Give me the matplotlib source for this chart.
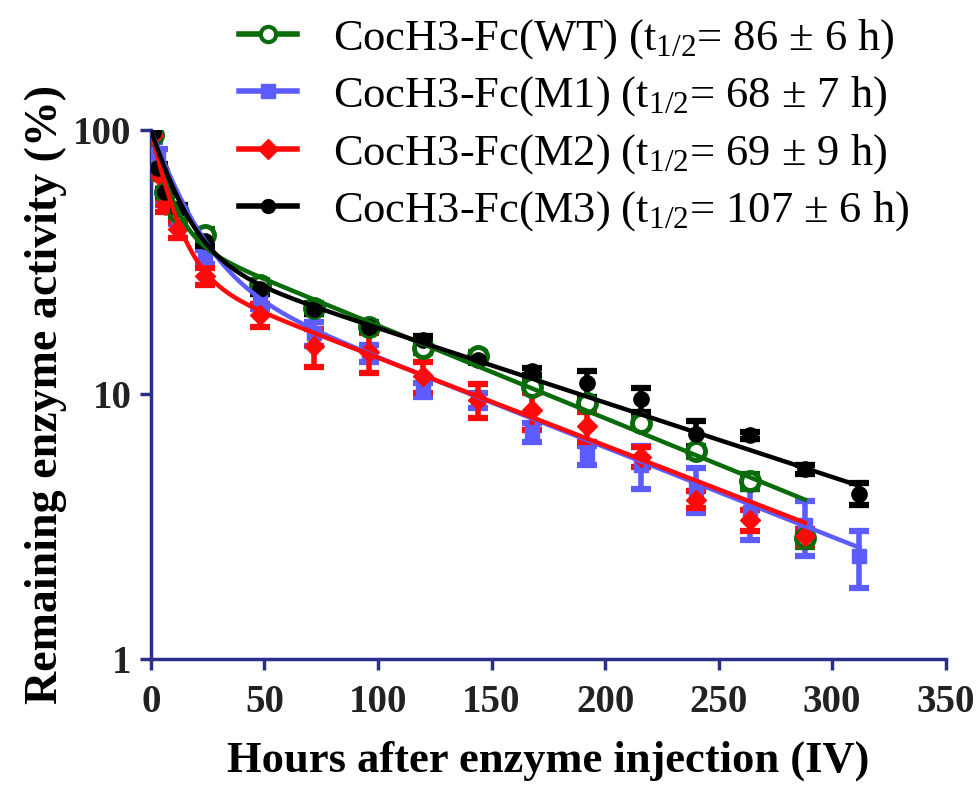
import numpy as np
import matplotlib
matplotlib.use("Agg")
import matplotlib.pyplot as plt
from matplotlib.lines import Line2D

plt.rcParams['font.family'] = ['Liberation Serif', 'DejaVu Serif']
plt.rcParams['mathtext.fontset'] = 'custom'
plt.rcParams['mathtext.rm'] = 'Liberation Serif'
plt.rcParams['mathtext.it'] = 'Liberation Serif:italic'
plt.rcParams['mathtext.bf'] = 'Liberation Serif:bold'

# ---------------- data ----------------
t_wt = [1, 3, 6, 12, 24, 48, 72, 96, 120, 144, 168, 192, 216, 240, 264, 288]
v_wt = [96, 70, 58, 49, 40, 26, 21.2, 18, 15, 13.9, 10.7, 9.3, 7.8, 6.1, 4.7, 2.85]
e_wt = [3, 3, 2, 2, 2, 1, 1, 0.8, 0.7, 0.5, 0.5, 0.4, 0.3, 0.3, 0.3, 0.2]

t_m1 = [1, 3, 6, 12, 24, 48, 72, 96, 120, 144, 168, 192, 216, 240, 264, 288, 312]
v_m1 = [94, 78, 55, 46, 33, 22.5, 17, 14.3, 10.4, 9.5, 7.2, 5.9, 5.4, 4.4, 3.6, 3.2, 2.45]
e_m1 = [4, 7, 3, 2, 2, 1.5, 1.8, 1.0, 0.6, 0.6, 0.6, 0.5, 1.0, 0.85, 0.8, 0.75, 0.6]

t_m2 = [1, 3, 6, 12, 24, 48, 72, 96, 120, 144, 168, 192, 216, 240, 264, 288]
v_m2 = [96, 68, 52, 42, 28, 20, 15.2, 14.5, 11.7, 9.5, 8.7, 7.6, 5.8, 4.0, 3.35, 2.9]
e_m2 = [3, 3, 3, 3, 2, 2, 2.5, 2.5, 1.6, 1.4, 1.4, 1.0, 0.5, 0.3, 0.3, 0.2]

t_m3 = [1, 3, 6, 12, 24, 48, 72, 96, 120, 144, 168, 192, 216, 240, 264, 288, 312]
v_m3 = [98, 72, 58, 50, 38, 25, 21, 18, 16.1, 13.5, 12.2, 11.0, 9.6, 7.1, 7.0, 5.2, 4.2]
e_m3 = [2, 2, 2, 2, 1.5, 1, 0.8, 0.6, 0.5, 0.4, 0.4, 1.2, 1.0, 0.8, 0.2, 0.2, 0.4]

# bi-exponential fit parameters (A, alpha, B, beta, end time)
fit_wt = (59.3, 0.132, 40.7, 0.00806, 288)
fit_m1 = (70.0, 0.070, 30.0, 0.00780, 312)
fit_m2 = (70.5, 0.1156, 29.5, 0.00764, 288)
fit_m3 = (66.0, 0.086, 34.0, 0.00648, 312)

labels = [
    r"CocH3-Fc(WT) (t$_{1/2}$= 86 ± 6 h)",
    r"CocH3-Fc(M1) (t$_{1/2}$= 68 ± 7 h)",
    r"CocH3-Fc(M2) (t$_{1/2}$= 69 ± 9 h)",
    r"CocH3-Fc(M3) (t$_{1/2}$= 107 ± 6 h)",
]

x_ticks = [0, 50, 100, 150, 200, 250, 300, 350]
y_ticks = [1, 10, 100]

# ---------------- styles ----------------
c_wt = "#0a6b0a"
c_m1 = "#5c5cff"
c_m2 = "#ff0a0a"
c_m3 = "#000000"
axis_col = "#2b2f8c"

fig = plt.figure(figsize=(9.8, 7.87), dpi=100)
ax = fig.add_axes([0.154, 0.163, 0.811, 0.672])


def curve(p):
    A, a, B, b, tend = p
    tt = np.linspace(0, tend, 500)
    return tt, A * np.exp(-a * tt) + B * np.exp(-b * tt)


series = [
    (t_m1, v_m1, e_m1, fit_m1, c_m1, dict(marker='s', ms=10, mfc=c_m1, mec=c_m1)),
    (t_wt, v_wt, e_wt, fit_wt, c_wt, dict(marker='o', ms=13, mfc='white', mec=c_wt, mew=3.5)),
    (t_m2, v_m2, e_m2, fit_m2, c_m2, dict(marker='D', ms=10, mfc=c_m2, mec=c_m2)),
    (t_m3, v_m3, e_m3, fit_m3, c_m3, dict(marker='o', ms=11, mfc=c_m3, mec=c_m3)),
]

for t, v, e, p, c, mk in series:
    ax.errorbar(t, v, yerr=e, fmt='none', ecolor=c, elinewidth=4,
                capsize=7, capthick=4.5, zorder=3)
    ax.plot(t, v, linestyle='none', zorder=4, **mk)
    tt, yy = curve(p)
    ax.plot(tt, yy, color=c, lw=3.2, zorder=5)

ax.set_yscale('log')
ax.set_xlim(0, 350)
ax.set_ylim(1, 100)
ax.set_xticks(x_ticks)
ax.set_xticklabels([str(x) for x in x_ticks])
ax.set_yticks(y_ticks)
ax.set_yticklabels([str(y) for y in y_ticks])
ax.yaxis.set_minor_locator(matplotlib.ticker.NullLocator())

for s in ['top', 'right']:
    ax.spines[s].set_visible(False)
for s in ['left', 'bottom']:
    ax.spines[s].set_color(axis_col)
    ax.spines[s].set_linewidth(2.5)
ax.tick_params(axis='both', which='major', direction='out', length=8, width=2.5,
               color=axis_col, labelsize=28)
ax.tick_params(axis='x', pad=10)
ax.tick_params(axis='y', pad=6)
for lab in ax.get_xticklabels() + ax.get_yticklabels():
    lab.set_fontweight('bold')
    lab.set_color('#222222')

ax.set_xlabel("Hours after enzyme injection (IV)", fontsize=32, fontweight='bold', labelpad=14)
ax.set_ylabel("Remaining enzyme activity (%)", fontsize=33, fontweight='bold', labelpad=4)

handles = [
    Line2D([], [], color=c_wt, lw=4, marker='o', ms=11, mfc='white', mec=c_wt, mew=3),
    Line2D([], [], color=c_m1, lw=4, marker='s', ms=10, mfc=c_m1, mec=c_m1),
    Line2D([], [], color=c_m2, lw=4, marker='D', ms=10, mfc=c_m2, mec=c_m2),
    Line2D([], [], color=c_m3, lw=4, marker='o', ms=10, mfc=c_m3, mec=c_m3),
]
leg = fig.legend(handles, labels, loc='upper right', bbox_to_anchor=(0.955, 1.012),
                 frameon=False, fontsize=32, handlelength=1.3, handletextpad=0.8,
                 labelspacing=0.3, borderaxespad=0.2)

fig.savefig("out.png", dpi=100)
